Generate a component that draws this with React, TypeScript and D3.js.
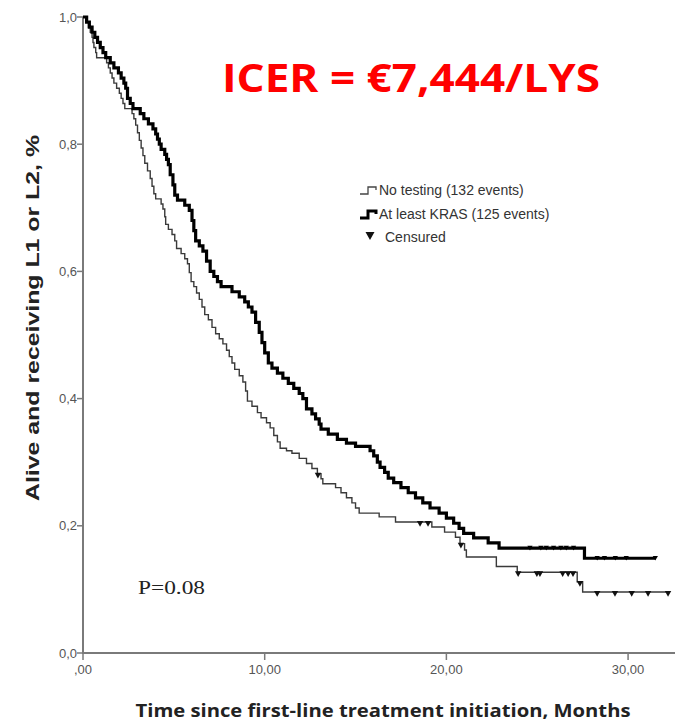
import React from "react";
import * as d3 from "d3";

// Kaplan-Meier steps: [time (months), survival after drop]
const krasSteps: [number, number][] = [
  [0, 1.0], [0.2, 0.992], [0.35, 0.984], [0.5, 0.976], [0.65, 0.968], [0.8, 0.96], [0.95, 0.952],
  [1.1, 0.944], [1.25, 0.936], [1.5, 0.928], [1.7, 0.92], [1.95, 0.912], [2.1, 0.904], [2.25, 0.896],
  [2.35, 0.888], [2.45, 0.872], [2.6, 0.864], [2.75, 0.856], [3.15, 0.848], [3.35, 0.84], [3.6, 0.832],
  [3.85, 0.824], [4.0, 0.816], [4.1, 0.808], [4.2, 0.8], [4.3, 0.792], [4.5, 0.784], [4.6, 0.776],
  [4.7, 0.768], [4.8, 0.752], [4.95, 0.736], [5.05, 0.72], [5.2, 0.712], [5.6, 0.704], [5.85, 0.696],
  [6.0, 0.68], [6.1, 0.664], [6.2, 0.648], [6.4, 0.64], [6.6, 0.632], [6.8, 0.616], [7.0, 0.6],
  [7.2, 0.592], [7.4, 0.584], [7.6, 0.576], [8.2, 0.568], [8.6, 0.56], [8.9, 0.552], [9.1, 0.544],
  [9.3, 0.536], [9.5, 0.52], [9.7, 0.504], [9.85, 0.488], [10.0, 0.472], [10.2, 0.456], [10.4, 0.448],
  [10.7, 0.44], [11.0, 0.432], [11.3, 0.424], [11.6, 0.416], [11.9, 0.408], [12.1, 0.4], [12.3, 0.384],
  [12.6, 0.376], [12.8, 0.368], [13.0, 0.36], [13.1, 0.352], [13.5, 0.344], [14.0, 0.336], [14.5, 0.33],
  [15.0, 0.325], [15.8, 0.318], [16.0, 0.31], [16.2, 0.3], [16.35, 0.292], [16.6, 0.284], [16.8, 0.275],
  [17.1, 0.268], [17.5, 0.26], [17.9, 0.252], [18.3, 0.244], [18.7, 0.236], [19.1, 0.228], [19.6, 0.22],
  [20.0, 0.212], [20.4, 0.204], [20.7, 0.196], [20.95, 0.188], [21.5, 0.181], [22.3, 0.173], [22.9, 0.165],
  [27.6, 0.149],
];
const krasEnd = 31.5;
const krasCensored: number[] = [24.6, 25.2, 25.5, 25.9, 26.3, 26.6, 27.0, 28.3, 28.7, 29.3, 29.9, 31.5];

const noTestSteps: [number, number][] = [
  [0, 1.0], [0.15, 0.992], [0.3, 0.984], [0.4, 0.976], [0.5, 0.968], [0.55, 0.96], [0.6, 0.952],
  [0.7, 0.944], [0.75, 0.936], [1.3, 0.928], [1.4, 0.92], [1.5, 0.912], [1.6, 0.904], [1.7, 0.896],
  [1.85, 0.888], [2.0, 0.88], [2.1, 0.872], [2.2, 0.864], [2.3, 0.856], [2.7, 0.848], [2.8, 0.84],
  [2.9, 0.83], [3.0, 0.818], [3.1, 0.806], [3.2, 0.794], [3.3, 0.782], [3.4, 0.77], [3.55, 0.758],
  [3.7, 0.746], [3.8, 0.734], [3.9, 0.722], [4.0, 0.714], [4.3, 0.706], [4.4, 0.698], [4.5, 0.686],
  [4.55, 0.674], [4.7, 0.666], [4.9, 0.658], [5.05, 0.648], [5.15, 0.636], [5.4, 0.628], [5.6, 0.62],
  [5.75, 0.612], [5.85, 0.598], [5.95, 0.584], [6.1, 0.576], [6.25, 0.566], [6.4, 0.556], [6.55, 0.544],
  [6.7, 0.532], [6.9, 0.524], [7.1, 0.512], [7.3, 0.502], [7.5, 0.494], [7.7, 0.486], [7.9, 0.476],
  [8.05, 0.466], [8.2, 0.456], [8.35, 0.446], [8.6, 0.436], [8.8, 0.426], [8.95, 0.412], [9.05, 0.396],
  [9.3, 0.388], [9.6, 0.378], [9.8, 0.37], [10.1, 0.362], [10.3, 0.354], [10.5, 0.342], [10.7, 0.332],
  [10.85, 0.322], [11.2, 0.318], [11.5, 0.314], [11.9, 0.306], [12.3, 0.298], [12.6, 0.29], [12.9, 0.282],
  [13.1, 0.274], [13.2, 0.266], [13.9, 0.26], [14.2, 0.252], [14.5, 0.244], [14.8, 0.236], [15.0, 0.228],
  [15.2, 0.22], [16.3, 0.214], [17.2, 0.206], [19.2, 0.198], [19.9, 0.19], [20.5, 0.182], [20.75, 0.172],
  [21.0, 0.162], [21.1, 0.151], [22.75, 0.136], [23.9, 0.127], [27.2, 0.112], [27.5, 0.096],
];
const noTestEnd = 32.3;
const noTestCensored: number[] = [12.93, 18.55, 18.99, 20.8, 23.95, 24.98, 25.15, 26.4, 26.7, 26.97, 27.35, 28.3, 29.28, 30.2, 31.1, 32.2];

const xTicks: number[] = [0, 10, 20, 30];
const xTickLabels: string[] = [",00", "10,00", "20,00", "30,00"];
const yTicks: number[] = [0, 0.2, 0.4, 0.6, 0.8, 1.0];
const yTickLabels: string[] = ["0,0", "0,2", "0,4", "0,6", "0,8", "1,0"];

const legendLabels: string[] = ["No testing (132 events)", "At least KRAS (125 events)", "Censured"];
const titleText = "ICER = €7,444/LYS";
const pText = "P=0.08";
const xTitle = "Time since first-line treatment initiation, Months";
const yTitle = "Alive and receiving L1 or L2, %";

const W = 675;
const H = 723;

export default function App() {
  const x = d3.scaleLinear().domain([0, 32.5]).range([83, 673.5]);
  const y = d3.scaleLinear().domain([0, 1]).range([653, 17]);

  const line = d3
    .line<[number, number]>()
    .x((d) => x(d[0]))
    .y((d) => y(d[1]))
    .curve(d3.curveStepAfter);

  const withEnd = (steps: [number, number][], end: number): [number, number][] => [
    ...steps,
    [end, steps[steps.length - 1][1]],
  ];

  const bis = d3.bisector((d: [number, number]) => d[0]).right;
  const valueAt = (steps: [number, number][], t: number) => steps[Math.max(0, bis(steps, t) - 1)][1];

  const tri = (cx: number, cy: number, s: number) =>
    `M${cx - s},${cy - s * 0.9}L${cx + s},${cy - s * 0.9}L${cx},${cy + s * 0.9}Z`;

  const axisColor = "#7a7a7a";
  const tickText = "#555";

  return (
    <svg width={W} height={H} style={{ position: "absolute", left: 0, top: 0, background: "#fff" }}>
      <rect x={0} y={0} width={W} height={H} fill="#fff" />
      {/* axes */}
      <line x1={x(0)} x2={x(0)} y1={y(1)} y2={y(0)} stroke={axisColor} strokeWidth={2} />
      <line x1={x(0) - 1} x2={W} y1={y(0)} y2={y(0)} stroke={axisColor} strokeWidth={2} />
      {yTicks.map((t, i) => (
        <g key={"yt" + i}>
          <line x1={x(0) - 6} x2={x(0)} y1={y(t)} y2={y(t)} stroke={axisColor} strokeWidth={1.5} />
          <text
            x={x(0) - 6}
            y={y(t) + 4.5}
            textAnchor="end"
            fontFamily="Liberation Sans, Arial, sans-serif"
            fontSize={13}
            fill={tickText}
          >
            {yTickLabels[i]}
          </text>
        </g>
      ))}
      {xTicks.map((t, i) => (
        <g key={"xt" + i}>
          <line x1={x(t)} x2={x(t)} y1={y(0)} y2={y(0) + 7} stroke={axisColor} strokeWidth={1.5} />
          <text
            x={x(t)}
            y={y(0) + 21}
            textAnchor="middle"
            fontFamily="Liberation Sans, Arial, sans-serif"
            fontSize={13}
            fill={tickText}
          >
            {xTickLabels[i]}
          </text>
        </g>
      ))}

      {/* curves */}
      <path d={line(withEnd(noTestSteps, noTestEnd)) || ""} fill="none" stroke="#3a3a3a" strokeWidth={1.4} />
      <path d={line(withEnd(krasSteps, krasEnd)) || ""} fill="none" stroke="#000" strokeWidth={3.2} />
      {noTestCensored.map((t, i) => (
        <path key={"nc" + i} d={tri(x(t), y(valueAt(noTestSteps, t)) + 2, 3.2)} fill="#111" />
      ))}
      {krasCensored.map((t, i) => (
        <path key={"kc" + i} d={tri(x(t), y(valueAt(krasSteps, t)), 2.6)} fill="#000" />
      ))}

      {/* legend */}
      <g fontFamily="Liberation Sans, Arial, sans-serif" fontSize={14} fill="#333">
        <path d="M360,194 H368 V187 H376 V190" fill="none" stroke="#444" strokeWidth={1.3} />
        <text x={379} y={195}>{legendLabels[0]}</text>
        <path d="M360,218 H368 V211 H376 V214" fill="none" stroke="#000" strokeWidth={3} />
        <text x={379} y={219}>{legendLabels[1]}</text>
        <path d={tri(370, 236, 4.5)} fill="#111" />
        <text x={385} y={242}>{legendLabels[2]}</text>
      </g>

      {/* annotations */}
      <text
        x={222}
        y={92}
        fontFamily="Open Sans, Lato, sans-serif"
        fontWeight={700}
        fontSize={40}
        fill="#ff0000"
        textLength={378}
        lengthAdjust="spacingAndGlyphs"
      >
        {titleText}
      </text>
      <text
        x={138}
        y={594}
        fontFamily="Liberation Serif, Times New Roman, serif"
        fontSize={18}
        fill="#222"
        textLength={67}
        lengthAdjust="spacingAndGlyphs"
      >
        {pText}
      </text>
      <text
        x={383}
        y={717}
        textAnchor="middle"
        fontFamily="Open Sans, Liberation Sans, sans-serif"
        fontWeight={700}
        fontSize={17}
        fill="#222"
        textLength={495}
        lengthAdjust="spacingAndGlyphs"
      >
        {xTitle}
      </text>
      <text
        transform={`translate(39,318) rotate(-90)`}
        textAnchor="middle"
        fontFamily="Liberation Sans, Arial, sans-serif"
        fontWeight={700}
        fontSize={17.5}
        fill="#222"
        textLength={366}
        lengthAdjust="spacingAndGlyphs"
      >
        {yTitle}
      </text>
    </svg>
  );
}
